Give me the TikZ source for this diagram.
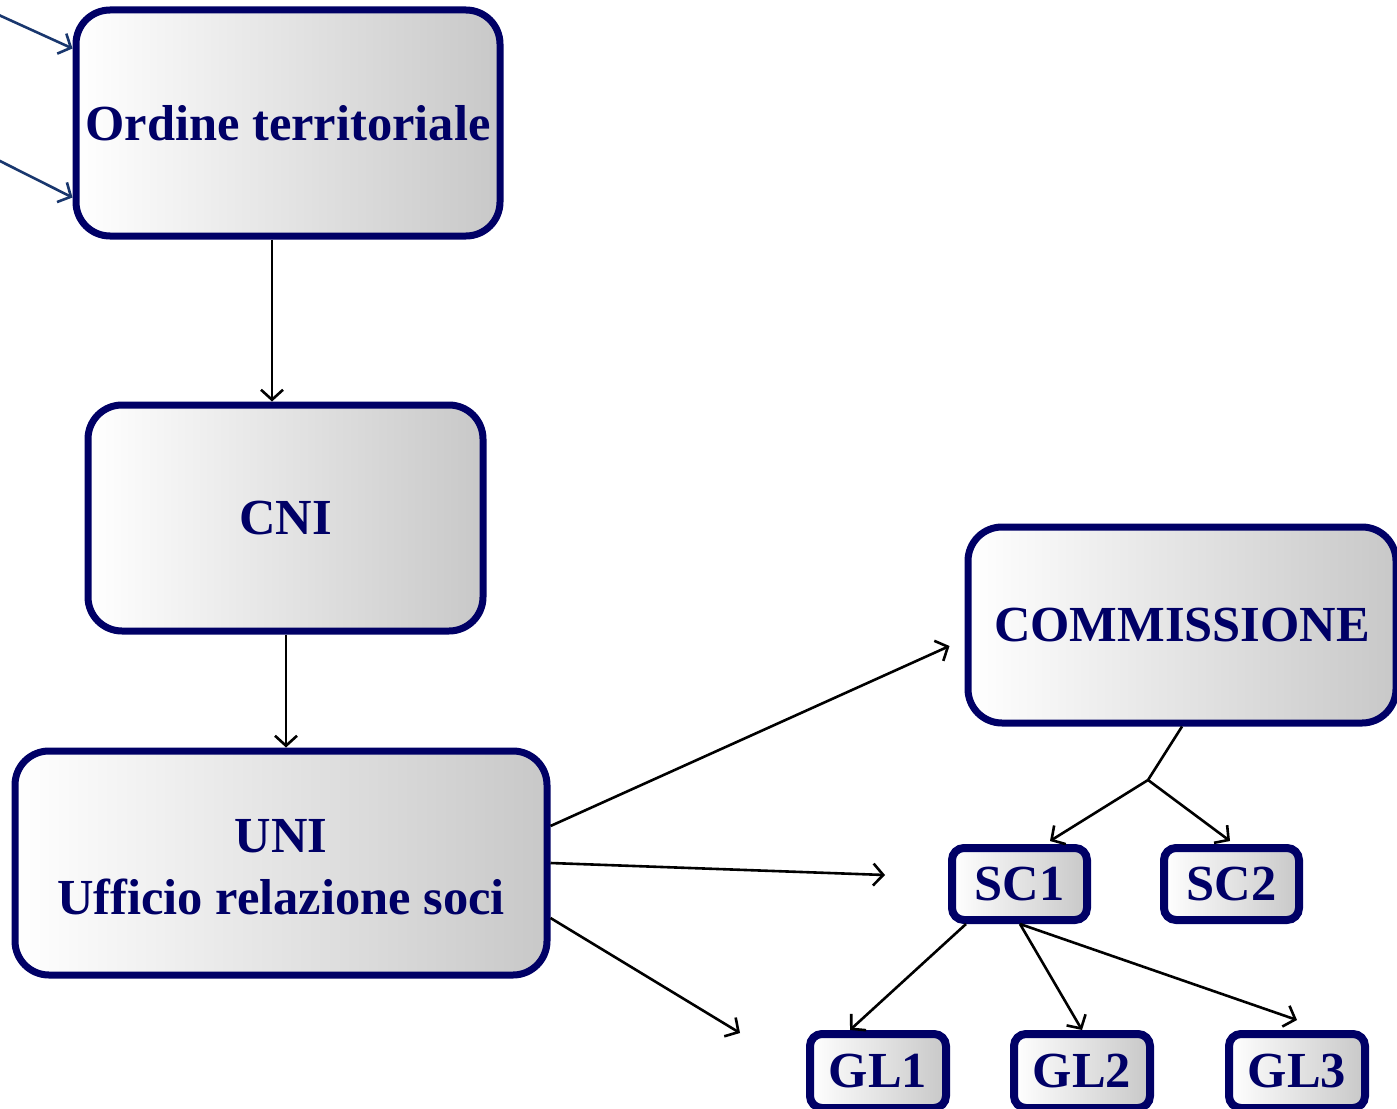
\documentclass[tikz,border=0pt]{standalone}
\usepackage{fontspec}
\setmainfont{Liberation Serif}
\usetikzlibrary{arrows.meta}
\definecolor{navy}{RGB}{0,0,102}
\definecolor{inblue}{RGB}{25,55,110}
\definecolor{shadegray}{RGB}{200,200,200}
\tikzset{
  bigbox/.style={draw=navy, line width=7pt, rounded corners=34pt, left color=white, right color=shadegray,
    text=navy, font=\bfseries\fontsize{50.5}{62}\selectfont, align=center, inner sep=0pt},
  smallbox/.style={draw=navy, line width=8pt, rounded corners=12pt, left color=white, right color=shadegray,
    text=navy, font=\bfseries\fontsize{50.5}{62}\selectfont, inner sep=0pt},
  arr/.style={line width=2.6pt, -{Straight Barb[length=10pt,width=22pt,line width=2.6pt]}},
  inarr/.style={arr, draw=inblue},
}
\begin{document}
\begin{tikzpicture}[x=1pt,y=-1pt]
\useasboundingbox[fill=white] (0,0) rectangle (1397,1108);
% boxes
\node[bigbox, minimum width=424pt, minimum height=226pt] (ord) at (288,123) {Ordine territoriale};
\node[bigbox, minimum width=395pt, minimum height=226pt] (cni) at (285.5,518) {CNI};
\node[bigbox, minimum width=532pt, minimum height=224pt] (uni) at (281,863) {\mbox{}\\[-21pt]UNI\\Ufficio relazione soci};
\node[bigbox, minimum width=428pt, minimum height=196pt] (com) at (1182,625) {COMMISSIONE};
\node[smallbox, minimum width=135pt, minimum height=72pt] (sc1) at (1019.5,884) {SC1};
\node[smallbox, minimum width=135pt, minimum height=72pt] (sc2) at (1231.5,884) {SC2};
\node[smallbox, minimum width=136pt, minimum height=74pt] (gl1) at (878,1071) {GL1};
\node[smallbox, minimum width=136pt, minimum height=74pt] (gl2) at (1082,1071) {GL2};
\node[smallbox, minimum width=136pt, minimum height=74pt] (gl3) at (1297,1071) {GL3};
% free ends
\coordinate (ina) at (-10,11);
\coordinate (inb) at (-10,156);
\coordinate (e2) at (885,875);
\coordinate (e3) at (740,1033);
\coordinate (br) at (1148,780);
% connectors
\draw[inarr] (ina) -- ([yshift=-42pt]ord.north west);
\draw[inarr] (inb) -- ([yshift=42pt]ord.south west);
\draw[arr] ([xshift=-16pt]ord.south) -- ([xshift=-13.5pt]cni.north);
\draw[arr] ([xshift=0.5pt]cni.south) -- ([xshift=5pt]uni.north);
\draw[arr] ([yshift=37pt]uni.east) -- ([xshift=-15pt,yshift=-21pt]com.west);
\draw[arr] (uni.east) -- (e2);
\draw[arr] ([yshift=-55pt]uni.east) -- (e3);
\draw[line width=2.6pt] (com.south) -- (br);
\draw[arr] (br) -- ([xshift=30.5pt,yshift=3pt]sc1.north);
\draw[arr] (br) -- ([xshift=-1.5pt,yshift=3pt]sc2.north);
\draw[arr] ([xshift=-53.5pt]sc1.south) -- ([xshift=-28pt]gl1.north);
\draw[arr] ([xshift=0.5pt]sc1.south) -- (gl2.north);
\draw[arr] ([xshift=0.5pt]sc1.south) -- ([yshift=10pt]gl3.north);
\end{tikzpicture}
\end{document}
